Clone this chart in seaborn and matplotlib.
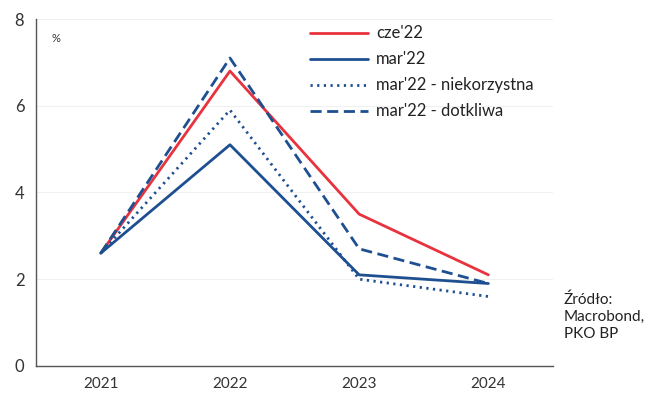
import matplotlib
matplotlib.use("Agg")
import matplotlib.pyplot as plt
import numpy as np
import pandas as pd
import seaborn as sns

years = ["2021", "2022", "2023", "2024"]
cze22 = [2.6, 6.8, 3.5, 2.1]
mar22 = [2.6, 5.1, 2.1, 1.9]
mar22_niekorzystna = [2.6, 5.9, 2.0, 1.6]
mar22_dotkliwa = [2.6, 7.1, 2.7, 1.9]

series = {
    "cze'22": cze22,
    "mar'22": mar22,
    "mar'22 - niekorzystna": mar22_niekorzystna,
    "mar'22 - dotkliwa": mar22_dotkliwa,
}
rows = []
for name, vals in series.items():
    for i, v in enumerate(vals):
        rows.append({"pos": i + 0.5, "value": v, "series": name})
df = pd.DataFrame(rows)

sns.set_style("white")
plt.rcParams['font.family'] = ['Lato', 'DejaVu Sans']

red = "#E8333F"
blue = "#1D4F91"
palette = {"cze'22": red, "mar'22": blue,
           "mar'22 - niekorzystna": blue, "mar'22 - dotkliwa": blue}
dashes = {"cze'22": "", "mar'22": "",
          "mar'22 - niekorzystna": (0.8, 1.6), "mar'22 - dotkliwa": (4, 2)}

fig = plt.figure(figsize=(6.46, 3.96), dpi=100)
ax = fig.add_axes([0.056, 0.076, 0.8, 0.876])
sns.lineplot(data=df, x="pos", y="value", hue="series", style="series",
             palette=palette, dashes=dashes, linewidth=2, ax=ax)

ax.set_xlim(0, 4)
ax.set_ylim(0, 8)
ax.set_xticks(np.arange(0, 5))
ax.set_xticklabels([])
ax.set_xticks(np.arange(len(years)) + 0.5, minor=True)
ax.set_xticklabels(years, minor=True, fontsize=11, color="#333333")
ax.tick_params(axis="x", which="major", direction="out", length=5, color="#555555")
ax.tick_params(axis="x", which="minor", length=0, pad=8)
ax.set_yticks([0, 2, 4, 6, 8])
ax.tick_params(axis="y", direction="out", length=5, color="#555555",
               labelsize=12, labelcolor="#333333")
ax.yaxis.grid(True, color="#f0f0f0", linewidth=0.8)
for s in ["top", "right"]:
    ax.spines[s].set_visible(False)
for s in ["left", "bottom"]:
    ax.spines[s].set_color("#555555")
    ax.spines[s].set_linewidth(1)
ax.set_xlabel("")
ax.set_ylabel("")
ax.text(0.03, 0.96, "%", transform=ax.transAxes, fontsize=8, color="#333333", va="top")

leg = ax.legend(loc="upper left", bbox_to_anchor=(0.5, 1.025), frameon=False,
                fontsize=12, handlelength=3.5, labelspacing=0.6, handletextpad=0.5)
for t in leg.get_texts():
    t.set_color("#222222")

fig.text(0.873, 0.14, "Źródło:\nMacrobond,\nPKO BP", fontsize=11, color="#222222",
         va="bottom", linespacing=1.25)

fig.savefig("out.png", dpi=100)
